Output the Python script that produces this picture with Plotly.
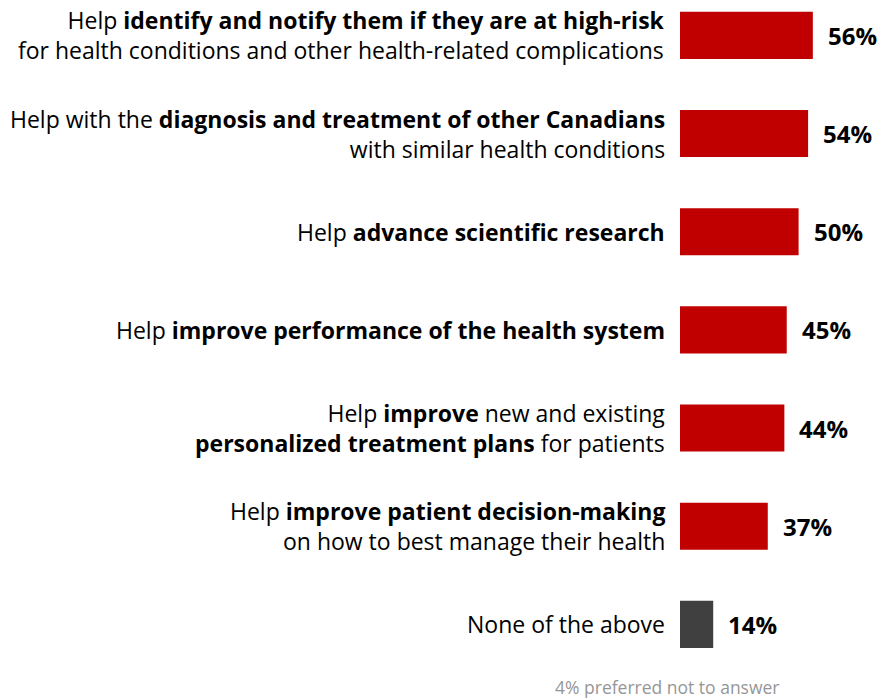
import plotly.graph_objects as go

# Survey results: share of respondents who would share health data for each purpose
labels = [
    "Help <b>identify and notify them if they are at high-risk</b><br>for health conditions and other health-related complications",
    "Help with the <b>diagnosis and treatment of other Canadians</b><br>with similar health conditions",
    "Help <b>advance scientific research</b>",
    "Help <b>improve performance of the health system</b>",
    "Help <b>improve</b> new and existing<br><b>personalized treatment plans</b> for patients",
    "Help <b>improve patient decision-making</b><br>on how to best manage their health",
    "None of the above",
]
values = [56, 54, 50, 45, 44, 37, 14]
bar_colors = ["#C00000"] * 6 + ["#404040"]
footnote = "4% preferred not to answer"

FONT = "Open Sans"
positions = list(range(len(values)))

fig = go.Figure()
fig.add_trace(go.Bar(
    x=values,
    y=positions,
    orientation="h",
    width=0.48,
    marker=dict(color=bar_colors, line=dict(width=0)),
    hoverinfo="skip",
))

# Category labels, right-aligned against the start of the bars
for pos, lab in zip(positions, labels):
    fig.add_annotation(
        x=0, y=pos, xref="x", yref="y",
        text=lab, showarrow=False,
        xanchor="right", yanchor="middle", align="right",
        xshift=-13,
        font=dict(family=FONT, size=23, color="#000000"),
    )

# Percentage labels just past the end of each bar
for pos, v in zip(positions, values):
    fig.add_annotation(
        x=v, y=pos, xref="x", yref="y",
        text=f"<b>{v}%</b>", showarrow=False,
        xanchor="left", yanchor="middle",
        xshift=13,
        font=dict(family=FONT, size=24, color="#000000"),
    )

fig.add_annotation(
    x=-0.059, y=0.017, xref="paper", yref="paper",
    text=footnote, showarrow=False,
    xanchor="center", yanchor="middle",
    font=dict(family=FONT, size=17.5, color="#969696"),
)

fig.update_layout(
    width=884, height=699,
    margin=dict(l=680, r=0, t=0, b=0),
    plot_bgcolor="white", paper_bgcolor="white",
    showlegend=False,
    xaxis=dict(range=[0, 86], visible=False, fixedrange=True),
    yaxis=dict(range=[6.76, -0.36], visible=False, fixedrange=True),
)
fig.write_html("out.html")
